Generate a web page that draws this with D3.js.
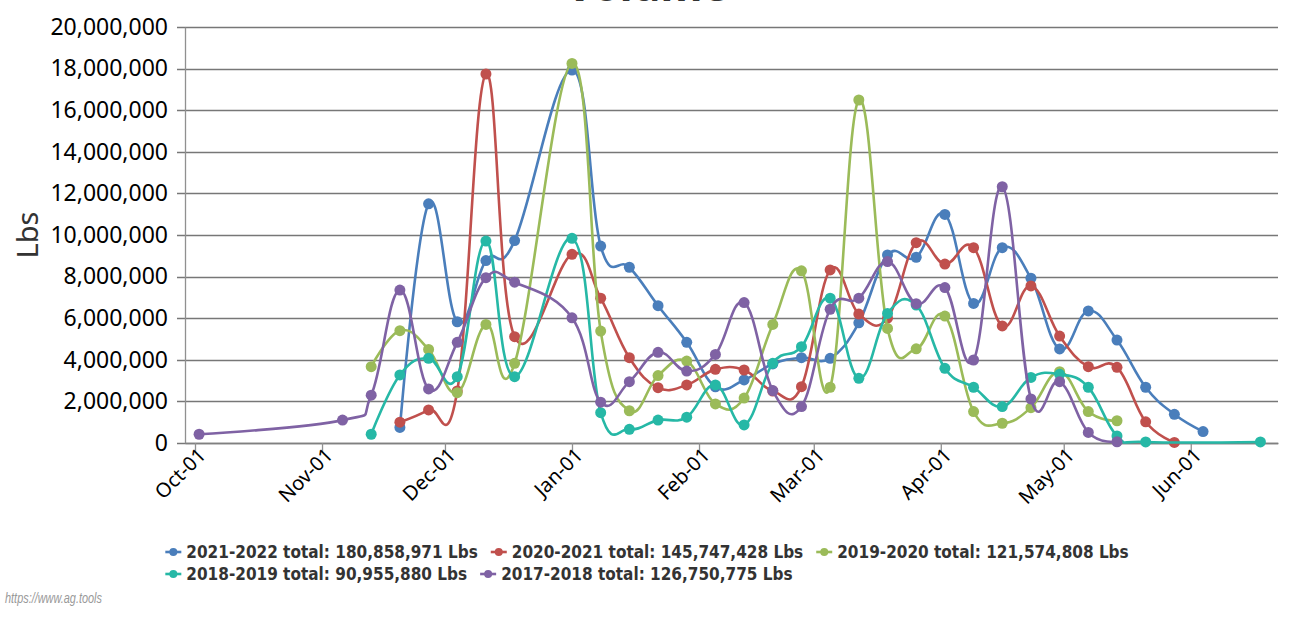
<!DOCTYPE html>
<html>
<head>
<meta charset="utf-8">
<script src="https://cdn.jsdelivr.net/npm/d3@7"></script>
<style>
  body { margin: 0; background: #fff; }
  svg { display: block; }
</style>
</head>
<body>
<svg id="chart" width="1293" height="624"></svg>
<script>
// week dates (common calendar, all seasons mapped onto Oct..Jun)
const weeks = ['2021-10-02', '2021-11-06', '2021-11-13', '2021-11-20', '2021-11-27', '2021-12-04',
  '2021-12-11', '2021-12-18', '2022-01-01', '2022-01-08', '2022-01-15', '2022-01-22', '2022-01-29',
  '2022-02-05', '2022-02-12', '2022-02-19', '2022-02-26', '2022-03-05', '2022-03-12', '2022-03-19',
  '2022-03-26', '2022-04-02', '2022-04-09', '2022-04-16', '2022-04-23', '2022-04-30', '2022-05-07',
  '2022-05-14', '2022-05-21', '2022-05-28', '2022-06-04', '2022-06-18'];

// weekly volume, millions of lbs (null = no shipment week)
const s2021 = [null, null, null, 0.75, 11.5, 5.83, 8.77, 9.73, 17.93, 9.47, 8.45, 6.6, 4.84, 2.7, 3.03, 3.8,
  4.1, 4.07, 5.78, 9.04, 8.93, 10.99, 6.71, 9.39, 7.92, 4.52, 6.35, 4.95, 2.68, 1.38, 0.55, null];
const s2020 = [null, null, null, 1.0, 1.59, 2.5, 17.74, 5.11, 9.07, 6.96, 4.1, 2.66, 2.79, 3.54, 3.51, 2.5,
  2.71, 8.32, 6.2, 6.0, 9.63, 8.6, 9.39, 5.63, 7.55, 5.14, 3.67, 3.64, 1.02, 0.03, null, null];
const s2019 = [null, null, 3.67, 5.4, 4.5, 2.42, 5.7, 3.83, 18.25, 5.38, 1.55, 3.24, 3.94, 1.88, 2.16, 5.7,
  8.28, 2.68, 16.49, 5.51, 4.53, 6.1, 1.51, 0.95, 1.7, 3.43, 1.51, 1.07, null, null, null, null];
const s2018 = [null, null, 0.42, 3.27, 4.07, 3.19, 9.71, 3.19, 9.84, 1.46, 0.66, 1.1, 1.24, 2.79, 0.87, 3.83,
  4.63, 6.96, 3.11, 6.23, 6.63, 3.59, 2.68, 1.75, 3.15, 3.3, 2.68, 0.34, 0.05, null, null, 0.05];
const s2017 = [0.42, 1.1, 2.3, 7.35, 2.6, 4.84, 7.95, 7.73, 6.02, 1.96, 2.95, 4.36, 3.46, 4.26, 6.75, 2.52,
  1.75, 6.43, 6.96, 8.72, 6.7, 7.47, 3.99, 12.32, 2.12, 2.95, 0.51, 0.06, null, null, null, null];

const seriesNames = ['2021-2022 total: 180,858,971 Lbs', '2020-2021 total: 145,747,428 Lbs',
  '2019-2020 total: 121,574,808 Lbs', '2018-2019 total: 90,955,880 Lbs', '2017-2018 total: 126,750,775 Lbs'];
const yTicks = [0, 2e6, 4e6, 6e6, 8e6, 10e6, 12e6, 14e6, 16e6, 18e6, 20e6];

const colors = ['#4a7ebb', '#c0504d', '#9bbb59', '#26b8a6', '#7f62a4'];
const allSeries = [s2021, s2020, s2019, s2018, s2017];

const svg = d3.select('#chart');
const width = 1293;
const margin = { top: 27, right: 15, bottom: 181, left: 185 };
const height = 624;
const parse = d3.utcParse('%Y-%m-%d');

const x = d3.scaleUtc()
  .domain([Date.UTC(2021, 8, 28, 13, 26), Date.UTC(2022, 5, 22, 7)])
  .range([margin.left, width - margin.right]);

const y = d3.scaleLinear()
  .domain([0, 20e6])
  .range([height - margin.bottom, margin.top]);

// title (mostly cut off above the frame, as in the source)
svg.append('text')
  .attr('x', 647).attr('y', 1)
  .attr('text-anchor', 'middle')
  .attr('font-family', 'Noto Sans, sans-serif')
  .attr('font-weight', 'bold')
  .attr('font-size', 43)
  .attr('fill', '#333')
  .text('Volume');

// horizontal grid
svg.append('g')
  .selectAll('line')
  .data(yTicks)
  .enter()
  .append('line')
  .attr('x1', margin.left - 8)
  .attr('x2', width - margin.right)
  .attr('y1', (d) => Math.round(y(d)) + 0.5)
  .attr('y2', (d) => Math.round(y(d)) + 0.5)
  .attr('stroke', '#777')
  .attr('stroke-width', 1.3);

// y axis
const yAxis = svg.append('g')
  .attr('transform', `translate(${margin.left},0)`)
  .call(d3.axisLeft(y).tickValues(yTicks).tickFormat(d3.format(',')).tickSize(0).tickPadding(17));
yAxis.select('.domain').attr('stroke', '#909090').attr('stroke-width', 1.3);
yAxis.selectAll('text')
  .attr('font-family', 'Noto Sans, sans-serif')
  .attr('font-size', 23)
  .attr('fill', '#000');

svg.append('text')
  .attr('transform', `translate(38,${(margin.top + height - margin.bottom) / 2}) rotate(-90)`)
  .attr('text-anchor', 'middle')
  .attr('font-family', 'Noto Sans, sans-serif')
  .attr('font-size', 29)
  .attr('fill', '#333')
  .text('Lbs');

// x axis
const xAxis = svg.append('g')
  .attr('transform', `translate(0,${height - margin.bottom})`)
  .call(d3.axisBottom(x)
    .tickValues(d3.utcMonth.range(Date.UTC(2021, 9, 1), Date.UTC(2022, 5, 2)))
    .tickFormat(d3.utcFormat('%b-%d'))
    .tickSize(9)
    .tickSizeOuter(0));
xAxis.select('.domain').attr('stroke', '#808080').attr('stroke-width', 1.3);
xAxis.selectAll('.tick line').attr('stroke', '#909090').attr('stroke-width', 1.3);
xAxis.selectAll('text')
  .attr('font-family', 'Noto Sans, sans-serif')
  .attr('font-size', 20)
  .attr('fill', '#000')
  .attr('text-anchor', 'end')
  .attr('dy', 0)
  .attr('transform', 'translate(3,5) rotate(-45)');

const line = d3.line()
  .defined((d) => d.v !== null)
  .x((d) => x(d.date))
  .y((d) => y(d.v * 1e6))
  .curve(d3.curveCardinal.tension(-0.2));

allSeries.forEach((vals, i) => {
  const pts = weeks.map((w, j) => ({ date: parse(w), v: vals[j] })).filter((d) => d.v !== null);
  const g = svg.append('g');
  g.append('path')
    .datum(pts)
    .attr('d', line)
    .attr('fill', 'none')
    .attr('stroke', colors[i])
    .attr('stroke-width', 2.6);
  g.selectAll('circle')
    .data(pts)
    .enter()
    .append('circle')
    .attr('cx', (d) => x(d.date))
    .attr('cy', (d) => y(d.v * 1e6))
    .attr('r', 5.5)
    .attr('fill', colors[i]);
});

// legend: two rows, left-aligned inside a centred box
const legendRows = [[0, 1, 2], [3, 4]];
const legend = svg.append('g');
const rowWidths = [];
legendRows.forEach((row, r) => {
  let lx = 0;
  const ly = 552 + r * 22;
  row.forEach((i) => {
    const item = legend.append('g').attr('transform', `translate(${lx},${ly})`);
    item.append('line')
      .attr('x1', 0).attr('x2', 16)
      .attr('stroke', colors[i]).attr('stroke-width', 2.6);
    item.append('circle').attr('cx', 8).attr('r', 4).attr('fill', colors[i]);
    const t = item.append('text')
      .attr('x', 21).attr('y', 6)
      .attr('font-family', 'DejaVu Sans Condensed, DejaVu Sans, sans-serif')
      .attr('font-stretch', 'condensed')
      .attr('font-weight', 'bold')
      .attr('font-size', 17)
      .attr('fill', '#333')
      .text(seriesNames[i]);
    lx += 21 + t.node().getComputedTextLength() + 13;
  });
  rowWidths.push(lx - 13);
});
legend.attr('transform', `translate(${647 - d3.max(rowWidths) / 2},0)`);

svg.append('text')
  .attr('x', 5).attr('y', 603)
  .attr('font-family', 'Liberation Sans, sans-serif')
  .attr('font-style', 'italic')
  .attr('font-size', 15)
  .attr('textLength', 97)
  .attr('lengthAdjust', 'spacingAndGlyphs')
  .attr('fill', '#999')
  .text('https://www.ag.tools');
</script>
</body>
</html>
